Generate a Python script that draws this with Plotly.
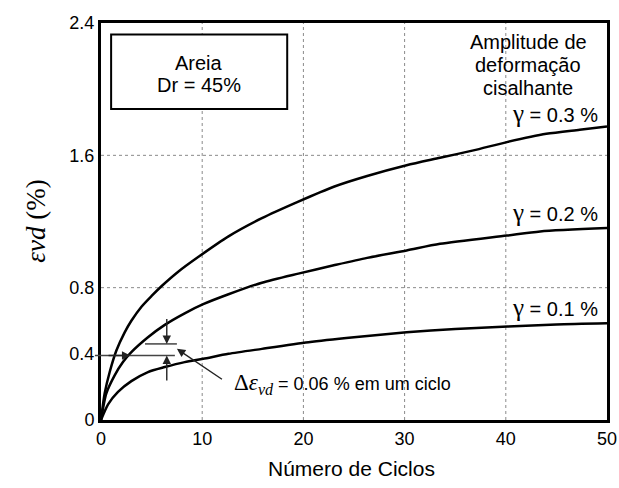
import plotly.graph_objects as go

# Cumulative volumetric strain vs. number of cycles for three shear strain amplitudes
ciclos_03 = [0, 0.36, 0.86, 1.52, 2.34, 3.0, 4.0, 5.0, 6.0, 7.6, 9.6, 12.6, 15.9, 19.5, 23.0, 26.3,
             30.2, 33.5, 36.8, 40.1, 44.0, 47.3, 50]
evd_03 = [0, 0.16, 0.29, 0.42, 0.53, 0.60, 0.685, 0.75, 0.81, 0.895, 0.985, 1.11, 1.22, 1.32, 1.41, 1.475,
          1.54, 1.585, 1.63, 1.68, 1.73, 1.755, 1.775]

ciclos_02 = [0, 0.52, 1.35, 2.17, 3.0, 4.64, 6.3, 8.27, 10.1, 12.6, 15.9, 19.5, 23.0, 26.3, 30.2, 33.5,
             40.1, 43.4, 50]
evd_02 = [0, 0.16, 0.27, 0.35, 0.41, 0.50, 0.575, 0.645, 0.70, 0.76, 0.83, 0.885, 0.935, 0.98, 1.025, 1.065,
          1.115, 1.14, 1.16]

ciclos_01 = [0, 0.7, 1.68, 3.0, 4.64, 6.3, 8.27, 10.1, 12.6, 15.9, 20.5, 25.0, 30.2, 35.0, 40.2, 45.0, 50]
evd_01 = [0, 0.095, 0.17, 0.235, 0.29, 0.32, 0.35, 0.37, 0.40, 0.43, 0.47, 0.50, 0.53, 0.55, 0.565, 0.578, 0.585]

x_ticks = [0, 10, 20, 30, 40, 50]
y_ticks = [0, 0.4, 0.8, 1.6, 2.4]
y_tick_text = ["0", "0.4", "0.8", "1.6", "2.4"]
x_grid = [10, 20, 30, 40]
y_grid = [0.8, 1.6]

curves = [
    (ciclos_03, evd_03, "0.3", 1.855),
    (ciclos_02, evd_02, "0.2", 1.253),
    (ciclos_01, evd_01, "0.1", 0.68),
]

FONT = "Liberation Sans, Arial, sans-serif"
SERIF = "Liberation Serif, Times New Roman, serif"

fig = go.Figure()
for xs, ys, gamma, _ in curves:
    fig.add_trace(go.Scatter(
        x=xs, y=ys, mode="lines", name=f"γ = {gamma} %",
        line=dict(color="black", width=2.5, shape="spline", smoothing=0.7),
        showlegend=False, hoverinfo="skip",
    ))

shapes = []
# dotted grid
for gx in x_grid:
    shapes.append(dict(type="line", xref="x", yref="y", x0=gx, x1=gx, y0=0, y1=2.4,
                       line=dict(color="#8a8a8a", width=1, dash="dot"), layer="below"))
for gy in y_grid:
    shapes.append(dict(type="line", xref="x", yref="y", x0=0, x1=50, y0=gy, y1=gy,
                       line=dict(color="#8a8a8a", width=1, dash="dot"), layer="below"))

# strain increment markers
shapes.append(dict(type="line", xref="paper", yref="y", x0=-0.012, x1=7.3 / 50, y0=0.39, y1=0.39,
                   line=dict(color="#444444", width=1.5)))
shapes.append(dict(type="line", xref="x", yref="y", x0=4.35, x1=7.5, y0=0.46, y1=0.46,
                   line=dict(color="#444444", width=1.5)))
# sample description box
shapes.append(dict(type="rect", xref="x", yref="y", x0=1.0, x1=18.4, y0=1.88, y1=2.33,
                   line=dict(color="black", width=2), fillcolor="white"))

annotations = []
for _, _, gamma, ylab in curves:
    annotations.append(dict(
        x=49.3, y=ylab, xref="x", yref="y", showarrow=False, xanchor="right", yanchor="middle",
        text=f'<span style="font-family:Liberation Serif;font-size:25px">γ</span> = {gamma} %',
        font=dict(family=FONT, size=20, color="black")))

for txt, yy in [("Areia", 2.16), ("Dr = 45%", 2.025)]:
    annotations.append(dict(x=9.7, y=yy, xref="x", yref="y", text=txt, showarrow=False,
                            xanchor="center", yanchor="middle",
                            font=dict(family=FONT, size=20, color="black")))

for txt, yy in [("Amplitude de", 2.285), ("deformação", 2.145), ("cisalhante", 2.005)]:
    annotations.append(dict(x=42.2, y=yy, xref="x", yref="y", text=txt, showarrow=False,
                            xanchor="center", yanchor="middle",
                            font=dict(family=FONT, size=20, color="black")))

arrows = [
    ((2.9, 0.39), (0.6, 0.39)),
    ((6.5, 0.46), (6.5, 0.62)),
    ((6.5, 0.39), (6.5, 0.23)),
    ((7.5, 0.43), (12.1, 0.24)),
]
for (hx, hy), (tx, ty) in arrows:
    annotations.append(dict(x=hx, y=hy, ax=tx, ay=ty, xref="x", yref="y", axref="x", ayref="y",
                            text="", showarrow=True, arrowhead=2, arrowsize=1.2, arrowwidth=1.4,
                            arrowcolor="#222222", standoff=0, startstandoff=0))

annotations.append(dict(
    x=12.95, y=0.215, xref="x", yref="y", xanchor="left", yanchor="middle", showarrow=False,
    text=('<span style="font-family:Liberation Serif;font-size:23px">Δ<i>ε</i>'
          '<sub><i>vd</i></sub></span> = 0.06 % em um ciclo'),
    font=dict(family=FONT, size=18, color="black"),
))

# axis titles
annotations.append(dict(x=-0.13, y=0.5, xref="paper", yref="paper", textangle=-90, showarrow=False,
                        xanchor="center", yanchor="middle",
                        text="<i>εvd</i> (%)", font=dict(family=SERIF, size=27, color="black")))
annotations.append(dict(x=0.496, y=-0.123, xref="paper", yref="paper", showarrow=False,
                        xanchor="center", yanchor="middle",
                        text="Número de Ciclos", font=dict(family=FONT, size=21, color="black")))

fig.update_layout(
    width=619, height=488,
    margin=dict(l=101, r=12, t=23, b=68),
    paper_bgcolor="white", plot_bgcolor="white",
    shapes=shapes, annotations=annotations,
    xaxis=dict(range=[0, 50], tickvals=x_ticks, showgrid=False, zeroline=False, automargin=False,
               showline=True, mirror=True, linecolor="black", linewidth=3,
               ticks="", tickfont=dict(family=FONT, size=18, color="black")),
    yaxis=dict(range=[0, 2.4], tickvals=y_ticks, ticktext=y_tick_text,
               showgrid=False, zeroline=False, automargin=False,
               showline=True, mirror=True, linecolor="black", linewidth=3,
               ticks="", tickfont=dict(family=FONT, size=18, color="black")),
)

fig.write_html("out.html")
